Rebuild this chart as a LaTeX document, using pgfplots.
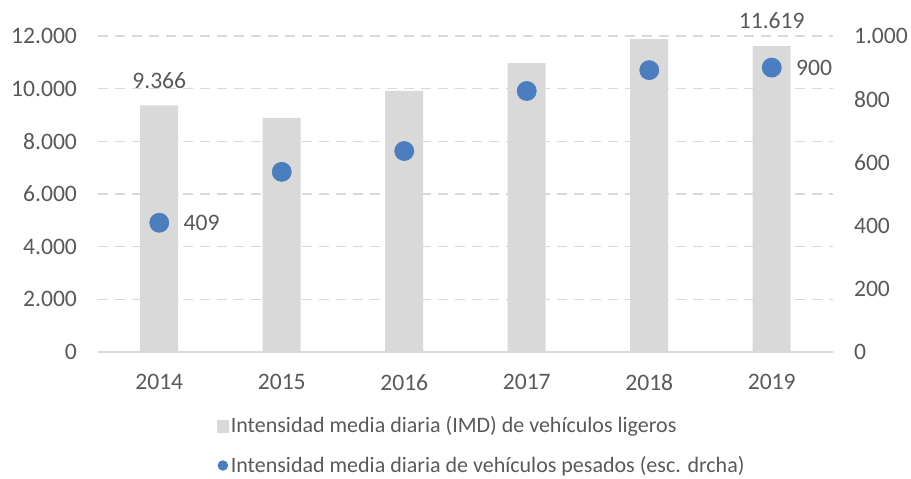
\documentclass[border=0pt]{standalone}
\usepackage{fontspec}
\setmainfont{Carlito}
\usepackage{pgfplots}
\pgfplotsset{compat=1.18}
\definecolor{bargray}{HTML}{D9D9D9}
\definecolor{dotblue}{HTML}{4A7EBF}
\definecolor{txt}{HTML}{595959}
\definecolor{gridc}{HTML}{D9D9D9}
\begin{document}
\begin{tikzpicture}
\useasboundingbox (-49pt,-63pt) rectangle (406.5pt,176pt);
\pgfplotsset{
  common/.style={
    scale only axis, width=367.5pt, height=158pt,
    at={(0pt,0pt)}, anchor=south west,
    xmin=-0.5, xmax=5.5, xtick={0,...,5},
    xticklabels={2014,2015,2016,2017,2018,2019},
    /pgf/number format/.cd, 1000 sep={.}, assume math mode=true, /pgfplots/.cd,
    scaled y ticks=false,
    tick label style={font=\fontsize{11.8}{13}\selectfont, text=txt},
    major tick length=0pt, tick style={draw=none},
    y axis line style={draw=none},
  }
}
\begin{axis}[common,
  ymin=0, ymax=12000, ytick={0,2000,...,12000},
  axis x line*=bottom, axis y line*=left,
  x axis line style={gridc, line width=0.75pt},
  ymajorgrids, grid style={gridc, line width=0.75pt, dash pattern=on 5pt off 3.5pt},
  yticklabel style={xshift=-7pt},
  xticklabel style={yshift=-7.5pt},
  legend style={at={(0.153,-0.185)}, anchor=north west, draw=none, fill=none,
    font=\fontsize{11}{12.5}\selectfont, text=txt, row sep=8pt,
    nodes={inner sep=1pt}},
  legend cell align=left,
]
\addlegendimage{legend image code/.code={\fill[bargray] (-2.8pt,-2.8pt) rectangle (2.8pt,2.8pt);}}
\addlegendentry{Intensidad media diaria (IMD) de vehículos ligeros}
\addlegendimage{legend image code/.code={\fill[dotblue] (0pt,0pt) circle (2.4pt);}}
\addlegendentry{Intensidad media diaria de vehículos pesados (esc. drcha)}
\addplot[ybar, bar width=19pt, fill=bargray, draw=none, forget plot]
  coordinates {(0,9366) (1,8890) (2,9920) (3,10970) (4,11880) (5,11619)};
\addplot[draw=none, mark=none, forget plot, point meta=y, nodes near coords,
  nodes near coords style={anchor=south, yshift=5pt, text=txt, font=\fontsize{11.8}{13}\selectfont}]
  coordinates {(0,9366) (5,11619)};
\end{axis}
\begin{axis}[common,
  ymin=0, ymax=1000, ytick={0,200,...,1000},
  axis x line=none, axis y line*=right,
  yticklabel style={xshift=7pt},
]
\addplot[only marks, mark=*, mark size=4.75pt, dotblue, mark options={draw=dotblue, fill=dotblue}]
  coordinates {(0,409) (1,570) (2,636) (3,826) (4,892) (5,900)};
\addplot[draw=none, mark=none, point meta=y, nodes near coords,
  nodes near coords style={anchor=west, xshift=8.7pt, text=txt, font=\fontsize{11.8}{13}\selectfont}]
  coordinates {(0,409) (5,900)};
\end{axis}
\end{tikzpicture}
\end{document}
